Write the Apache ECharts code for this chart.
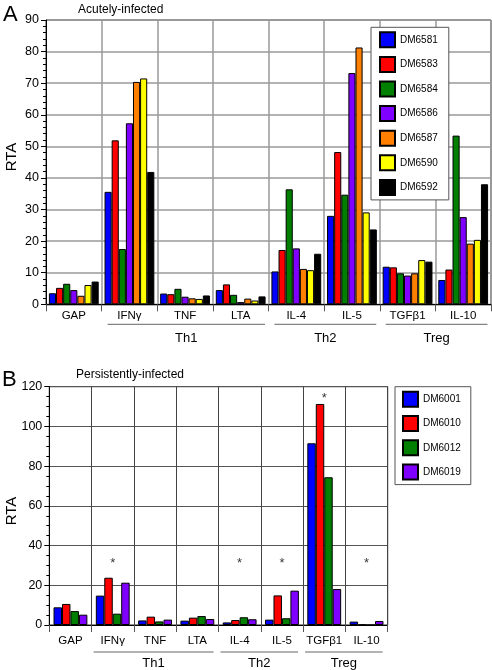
<!DOCTYPE html>
<html><head><meta charset="utf-8">
<script src="https://cdn.jsdelivr.net/npm/echarts@6/dist/echarts.min.js"></script>
<style>html,body{margin:0;padding:0;background:#fff}#c{width:492px;height:670px}</style>
</head><body><div id="c"></div>
<script>
const categories = ['GAP','IFNγ','TNF','LTA','IL-4','IL-5','TGFβ1','IL-10'];
// Panel A (acutely-infected)
const namesA = ['DM6581','DM6583','DM6584','DM6586','DM6587','DM6590','DM6592'];
const colorsA = ['#0000ff','#ff0000','#007f00','#7f00ff','#ff7f00','#ffff00','#000000'];
const dm6581 = [3.5, 35.6, 3.4, 4.5, 10.4, 28.0, 11.9, 7.7];
const dm6583 = [5.2, 51.9, 3.2, 6.3, 17.2, 48.2, 11.7, 11.0];
const dm6584 = [6.5, 17.5, 4.9, 3.0, 36.4, 34.7, 9.8, 53.4];
const dm6586 = [4.5, 57.3, 2.4, 0.7, 17.7, 73.2, 9.1, 27.6];
const dm6587 = [2.7, 70.4, 1.9, 1.8, 11.2, 81.3, 9.8, 19.2];
const dm6590 = [6.1, 71.5, 1.7, 1.2, 10.8, 29.1, 14.0, 20.4];
const dm6592 = [7.2, 41.9, 2.8, 2.5, 16.0, 23.7, 13.5, 38.0];
const valuesA = [dm6581, dm6583, dm6584, dm6586, dm6587, dm6590, dm6592];
// Panel B (persistently-infected)
const namesB = ['DM6001','DM6010','DM6012','DM6019'];
const colorsB = ['#0000ff','#ff0000','#007f00','#7f00ff'];
const dm6001 = [8.9, 14.8, 2.3, 2.2, 1.3, 2.7, 91.5, 1.7];
const dm6010 = [10.6, 23.8, 4.2, 3.7, 2.5, 14.9, 111.3, 0.2];
const dm6012 = [7.0, 5.7, 1.8, 4.5, 3.9, 3.4, 74.4, 0];
const dm6019 = [5.2, 21.3, 2.7, 3.0, 2.9, 17.3, 18.1, 2.0];
const valuesB = [dm6001, dm6010, dm6012, dm6019];
// significance markers (position in RTA units), null = none
const asteriskB = [null, 31, null, null, 31, 31, 114, 31];
// tick settings
const yMaxA = 90, yStepA = 10, yMaxB = 120, yStepB = 20;
// cytokine groups
const groupNames = ['Th1','Th2','Treg'];
const groupStart = [1, 4, 6];
const groupEnd = [3, 5, 7];

const FONT = "'Liberation Sans', Arial, Helvetica, sans-serif";
const chart = echarts.init(document.getElementById('c'), null, {renderer:'canvas'});

function yAxisCfg(gi, max, step, minorSplit, gridColor, gridWidth){
  return {
    type:'value', gridIndex:gi, min:0, max:max, interval:step,
    axisLine:{show:true, lineStyle:{color:'#000', width:1}},
    axisTick:{show:true, length:5, lineStyle:{color:'#000'}},
    minorTick:{show:true, splitNumber:minorSplit, length:3, lineStyle:{color:'#000'}},
    axisLabel:{fontFamily:FONT, fontSize:12.5, color:'#000', margin:7},
    splitLine:{show:true, lineStyle:{color:gridColor, width:gridWidth}}
  };
}
function xAxisCfg(gi, gridColor, gridWidth, margin){
  return {
    type:'category', gridIndex:gi, data:categories,
    axisLine:{show:true, lineStyle:{color:'#000', width:1}},
    axisTick:{show:true, interval:0, length:7, lineStyle:{color:'#555'}},
    axisLabel:{fontFamily:FONT, fontSize:11.5, color:'#000', margin:margin, interval:0},
    splitLine:{show:true, interval:0, lineStyle:{color:gridColor, width:gridWidth}}
  };
}

const series = [];
namesA.forEach((n,i)=>{
  series.push({type:'bar', name:n, xAxisIndex:0, yAxisIndex:0, data:valuesA[i],
    barGap:'0%', barCategoryGap:'10.5%',
    itemStyle:{color:colorsA[i], borderColor:'#000', borderWidth:1}});
});
namesB.forEach((n,i)=>{
  series.push({type:'bar', name:n, xAxisIndex:1, yAxisIndex:1, data:valuesB[i],
    barGap:'0%', barCategoryGap:'20%',
    itemStyle:{color:colorsB[i], borderColor:'#000', borderWidth:1}});
});
series.push({type:'scatter', xAxisIndex:1, yAxisIndex:1, data:asteriskB, symbolSize:0,
  silent:true, label:{show:true, position:'inside', formatter:'*', fontFamily:FONT, fontSize:13, color:'#000'}});

const legendCommon = {orient:'vertical', itemWidth:15, itemHeight:15, icon:'rect', backgroundColor:'#fff',
  borderColor:'#555', borderWidth:1, borderRadius:0,
  textStyle:{fontFamily:FONT, fontSize:10, color:'#000'}, selectedMode:false};

chart.setOption({
  animation:false,
  grid:[
    {left:46, top:20, width:445, height:284.3, show:true, borderColor:'#333', borderWidth:1, backgroundColor:'transparent', containLabel:false, outerBoundsMode:'none'},
    {left:49.3, top:386.7, width:338.4, height:238.3, show:true, borderColor:'#222', borderWidth:1, backgroundColor:'transparent', containLabel:false, outerBoundsMode:'none'}
  ],
  xAxis:[xAxisCfg(0,'#9a9a9a',1.5,6), xAxisCfg(1,'#444',1,10)],
  yAxis:[yAxisCfg(0,yMaxA,yStepA,5,'#9a9a9a',1.5), yAxisCfg(1,yMaxB,yStepB,4,'#555',1)],
  legend:[
    Object.assign({}, legendCommon, {data:namesA, left:371, top:27.3, itemGap:7.6, padding:[4,11,4,8]}),
    Object.assign({}, legendCommon, {data:namesB, left:395, top:386.7, itemGap:7.3, padding:[4,10,4,7]})
  ],
  series:series
});

// annotations: panel letters, titles, axis titles, group brackets (positions computed from axes)
const g = [];
g.push({type:'text', left:3, top:4, style:{text:'A', font:'22px '+FONT, fill:'#000'}});
g.push({type:'text', left:78, top:4, style:{text:'Acutely-infected', font:'12px '+FONT, fill:'#000'}});
g.push({type:'text', left:2, top:369, style:{text:'B', font:'22px '+FONT, fill:'#000'}});
g.push({type:'text', left:76, top:369, style:{text:'Persistently-infected', font:'12px '+FONT, fill:'#000'}});
g.push({type:'text', x:12, y:157, rotation:Math.PI/2, style:{text:'RTA', font:'15px '+FONT, fill:'#000', textAlign:'center', textVerticalAlign:'middle'}});
g.push({type:'text', x:12, y:511, rotation:Math.PI/2, style:{text:'RTA', font:'15px '+FONT, fill:'#000', textAlign:'center', textVerticalAlign:'middle'}});

function addGroups(ax, lineOff, labelOff, insL, insR){
  const c0 = chart.convertToPixel({xAxisIndex:ax}, 0);
  const c1 = chart.convertToPixel({xAxisIndex:ax}, 1);
  const bw = c1 - c0;
  const y0 = chart.convertToPixel({yAxisIndex:ax}, 0);
  groupNames.forEach((nm,i)=>{
    const xl = chart.convertToPixel({xAxisIndex:ax}, groupStart[i]) - bw/2 + insL;
    const xr = chart.convertToPixel({xAxisIndex:ax}, groupEnd[i]) + bw/2 - insR;
    g.push({type:'line', shape:{x1:xl, y1:y0+lineOff, x2:xr, y2:y0+lineOff}, style:{stroke:'#666', lineWidth:1}});
    g.push({type:'text', x:(xl+xr)/2, y:y0+labelOff, style:{text:nm, font:'13px '+FONT, fill:'#000', textAlign:'center', textVerticalAlign:'middle'}});
  });
}
addGroups(0, 20, 34, 6, 3.5);
addGroups(1, 27, 38, 2, 5);
chart.setOption({graphic:g});
</script>
</body></html>
